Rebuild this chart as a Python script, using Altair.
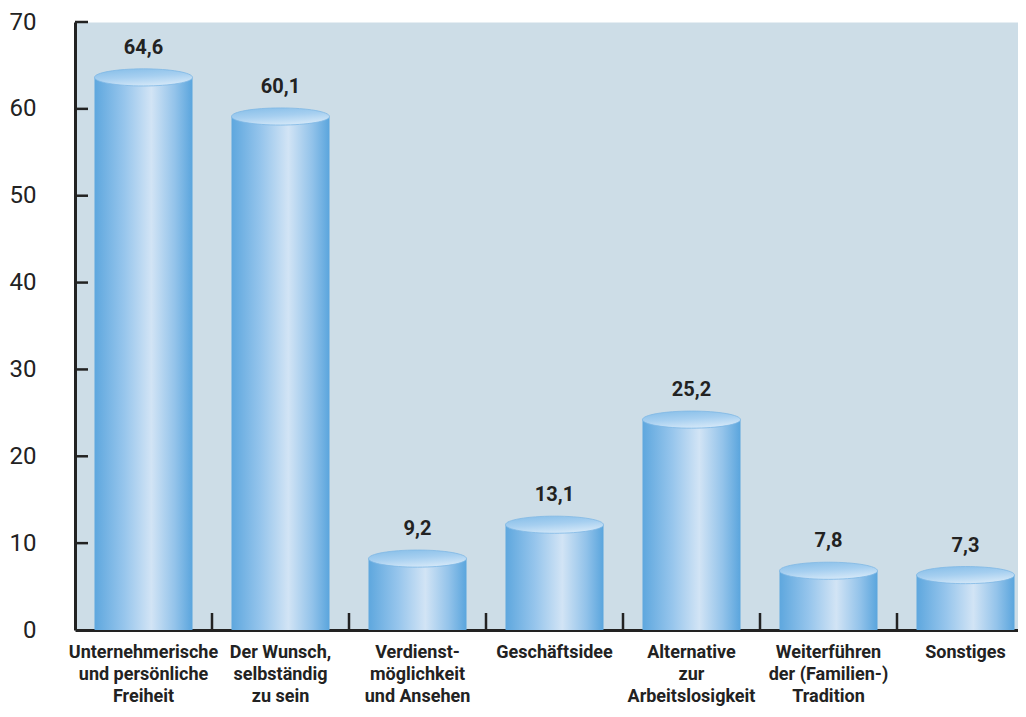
import altair as alt
import pandas as pd

categories = [
    "Unternehmerische\nund persönliche\nFreiheit",
    "Der Wunsch,\nselbständig\nzu sein",
    "Verdienst-\nmöglichkeit\nund Ansehen",
    "Geschäftsidee",
    "Alternative\nzur\nArbeitslosigkeit",
    "Weiterführen\nder (Familien-)\nTradition",
    "Sonstiges",
]
values = [64.6, 60.1, 9.2, 13.1, 25.2, 7.8, 7.3]
value_labels = ["64,6", "60,1", "9,2", "13,1", "25,2", "7,8", "7,3"]
y_ticks = [0, 10, 20, 30, 40, 50, 60, 70]
inner_ticks = [10, 20, 30, 40, 50, 60, 70]

df = pd.DataFrame({"cat": categories, "value": values, "label": value_labels})
tick_df = pd.DataFrame({"value": inner_ticks})
sep_df = pd.DataFrame({"cat": categories[:-1]})

W, H = 959, 608
FONT = "Roboto"
DARK = "#222222"
BAR_W = 98

x_enc = alt.X(
    "cat:N",
    sort=categories,
    scale=alt.Scale(domain=categories, paddingInner=0, paddingOuter=0),
    axis=alt.Axis(
        title=None,
        labelExpr="split(datum.value, '\\n')",
        labelAngle=0,
        labelFont=FONT,
        labelFontSize=18,
        labelFontWeight="bold",
        labelColor=DARK,
        labelLineHeight=22,
        labelPadding=13,
        labelLimit=0,
        labelBaseline="top",
        ticks=False,
        domain=True,
        domainColor=DARK,
        domainWidth=3,
        grid=False,
    ),
)
y_enc = alt.Y(
    "value:Q",
    scale=alt.Scale(domain=[0, 70], nice=False, zero=True),
    axis=alt.Axis(
        title=None,
        values=y_ticks,
        ticks=False,
        labelFont=FONT,
        labelFontSize=24,
        labelColor=DARK,
        labelPadding=39,
        domain=True,
        domainColor=DARK,
        domainWidth=3,
        grid=False,
    ),
)

body_grad = alt.LinearGradient(
    gradient="linear",
    x1=0, x2=1, y1=0, y2=0,
    stops=[
        alt.GradientStop(color="#5ea7de", offset=0),
        alt.GradientStop(color="#96c5ec", offset=0.3),
        alt.GradientStop(color="#d2e4f5", offset=0.58),
        alt.GradientStop(color="#93c3ea", offset=0.82),
        alt.GradientStop(color="#5aa5dd", offset=1),
    ],
)
top_grad = alt.LinearGradient(
    gradient="linear",
    x1=0, x2=0.4, y1=0, y2=1,
    stops=[
        alt.GradientStop(color="#84bde8", offset=0),
        alt.GradientStop(color="#a6cff0", offset=0.55),
        alt.GradientStop(color="#cfe5f7", offset=1),
    ],
)

ellipse = "M -1 0 A 1 0.175 0 1 1 1 0 A 1 0.175 0 1 1 -1 0 Z"

base = alt.Chart(df)

body = base.mark_bar(size=BAR_W, color=body_grad, yOffset=8.5, clip=True).encode(x=x_enc, y=y_enc)
tops = base.mark_point(
    shape=ellipse, size=BAR_W * BAR_W, filled=True, fill=top_grad, opacity=1,
    stroke="#7fb8e4", strokeWidth=0.8, yOffset=8.5,
).encode(x=x_enc, y=y_enc)
texts = base.mark_text(
    dy=-15, baseline="alphabetic", font=FONT, fontSize=20, fontWeight="bold", color=DARK,
).encode(x=x_enc, y=y_enc, text="label:N")

ytick_rules = alt.Chart(tick_df).mark_rule(color=DARK, strokeWidth=2.5).encode(
    y=y_enc, x=alt.value(0), x2=alt.value(13)
)
xtick_rules = alt.Chart(sep_df).mark_rule(color=DARK, strokeWidth=2.5, xOffset=W / 14).encode(
    x=x_enc, y=alt.value(H), y2=alt.value(H - 17)
)

chart = (
    alt.layer(body, tops, texts, ytick_rules, xtick_rules)
    .properties(
        width=W,
        height=H,
        autosize=alt.AutoSizeParams(type="none"),
        padding={"left": 67, "top": 14, "right": -16, "bottom": 76},
        background="white",
    )
    .configure_view(fill="#cddde7", stroke="transparent")
)

chart.save("out.html", embed_options={"renderer": "svg", "actions": False})
